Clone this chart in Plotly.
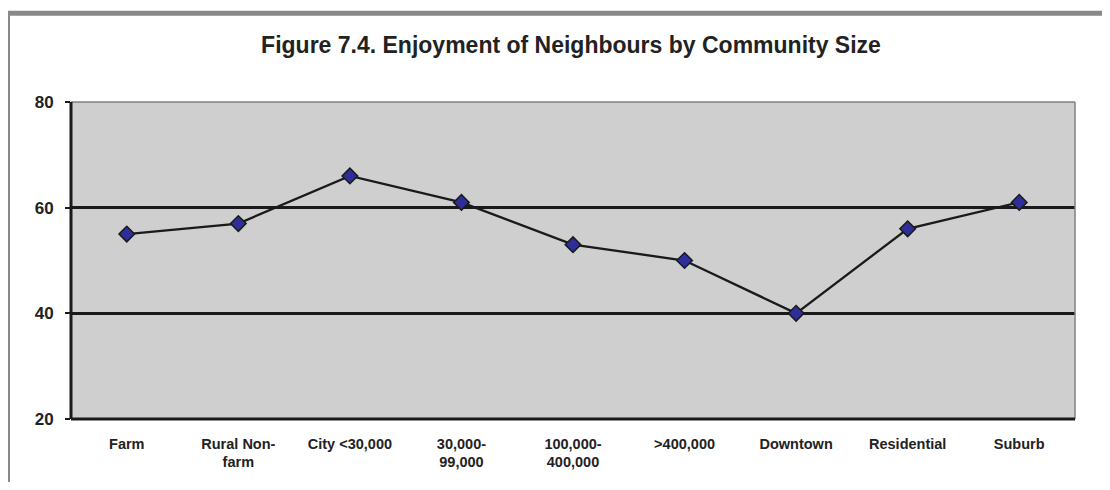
import plotly.graph_objects as go

categories = ["Farm", "Rural Non-<br>farm", "City <30,000", "30,000-<br>99,000",
              "100,000-<br>400,000", ">400,000", "Downtown", "Residential", "Suburb"]
values = [55, 57, 66, 61, 53, 50, 40, 56, 61]
y_ticks = [20, 40, 60, 80]

# page body has an 8px margin; figure sized to fit the window without scrollbars
OFF = 8
W, H = 1110 - 2 * OFF, 490 - 2 * OFF
# plot area in reference page pixels
PL, PR, PT, PB = 71, 1075, 102, 422
L, T = PL - OFF, PT - OFF
R, B = W - (PR - OFF), H - (PB - OFF)
pw, ph = W - L - R, H - T - B

def px(x):
    return (x - OFF - L) / pw

def py(y):
    return (H - B - (y - OFF)) / ph

fig = go.Figure()
fig.add_trace(go.Scatter(
    x=list(range(len(categories))), y=values, mode="lines+markers",
    line=dict(color="#1a1a1a", width=2.3),
    marker=dict(symbol="diamond", size=12, color="#2e2e9a",
                line=dict(color="#1a1a1a", width=1.5)),
    showlegend=False, cliponaxis=False,
))

fig.update_layout(
    width=W, height=H,
    margin=dict(l=L, r=R, t=T, b=B),
    paper_bgcolor="white", plot_bgcolor="#cfcfcf",
    title=dict(text="<b>Figure 7.4. Enjoyment of Neighbours by Community Size</b>",
               x=px(571), xref="paper", xanchor="center",
               y=1 - (45 - OFF) / H, yanchor="middle",
               font=dict(family="Liberation Sans, Arial", size=23, color="#222222")),
    font=dict(family="Liberation Sans, Arial", color="#222222"),
    xaxis=dict(range=[-0.5, len(categories) - 0.5],
               tickmode="array", tickvals=list(range(len(categories))),
               ticktext=[f"<b>{c}</b>" for c in categories],
               tickfont=dict(size=14.5, color="#222222"),
               showgrid=False, zeroline=False, showline=False, ticks="",
               ticklabelstandoff=14),
    yaxis=dict(range=[20, 80], tickmode="array", tickvals=y_ticks,
               ticktext=[f"<b>{v}</b>" for v in y_ticks],
               tickfont=dict(size=17, color="#222222"),
               showgrid=True, gridcolor="#1a1a1a", gridwidth=3,
               zeroline=False, showline=False,
               ticks="outside", ticklen=5, tickwidth=2, tickcolor="#1a1a1a",
               ticklabelstandoff=8),
)

shapes = [
    # plot area top & right border (gray)
    dict(type="line", xref="paper", yref="paper", x0=0, x1=1, y0=1, y1=1,
         line=dict(color="#808080", width=1.5)),
    dict(type="line", xref="paper", yref="paper", x0=1, x1=1, y0=0, y1=1,
         line=dict(color="#808080", width=1.5)),
    # left & bottom axis lines (black)
    dict(type="line", xref="paper", yref="paper", x0=0, x1=0, y0=0, y1=1,
         line=dict(color="#1a1a1a", width=3)),
    dict(type="line", xref="paper", yref="paper", x0=0, x1=1, y0=0, y1=0,
         line=dict(color="#1a1a1a", width=3)),
    # outer gray frame
    dict(type="rect", xref="paper", yref="paper",
         x0=px(7.5), x1=px(1140), y0=py(12.5), y1=py(520),
         line=dict(color="#888888", width=5), fillcolor="rgba(0,0,0,0)", layer="above"),
]
fig.update_layout(shapes=shapes)

fig.write_html("out.html")
